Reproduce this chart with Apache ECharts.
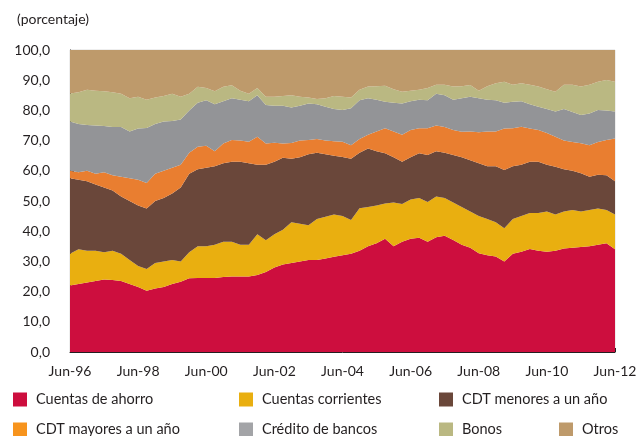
<!DOCTYPE html>
<html>
<head>
<meta charset="utf-8">
<script src="https://cdn.jsdelivr.net/npm/echarts@6/dist/echarts.min.js"></script>
<style>
  html, body { margin: 0; padding: 0; background: #fff; }
  #chart { width: 640px; height: 436px; }
</style>
</head>
<body>
<div id="chart"></div>
<script>
// trimestral, Jun-96 a Jun-12 (participación %)
let meses = ['Jun', 'Sep', 'Dic', 'Mar'];
let fechas = [];
for (let i = 0; i <= 64; i++) {
  let anio = 96 + Math.floor((i + 2) / 4);
  fechas.push(meses[i % 4] + '-' + String(anio % 100).padStart(2, '0'));
}

let ahorro = [22.0, 22.5, 23.0, 23.5, 24.0, 23.8, 23.5, 22.5, 21.5, 20.3, 21.0, 21.5, 22.5, 23.3, 24.4, 24.5,
  24.5, 24.5, 24.8, 25.0, 25.0, 25.0, 25.5, 26.5, 28.0, 29.0, 29.5, 30.0, 30.5, 30.5, 31.0, 31.5,
  32.0, 32.5, 33.5, 35.0, 36.0, 37.5, 35.0, 36.5, 37.5, 37.8, 36.5, 38.0, 38.5, 37.1, 35.5, 34.5,
  32.7, 32.0, 31.6, 30.0, 32.5, 33.2, 34.1, 33.5, 33.2, 33.5, 34.3, 34.5, 34.8, 35.0, 35.5, 36.0, 34.0];
let corrientes = [10.5, 11.5, 10.5, 10.0, 9.0, 9.7, 9.0, 8.0, 7.0, 7.2, 8.5, 8.5, 8.0, 6.7, 8.6, 10.5,
  10.5, 11.0, 11.7, 11.5, 10.5, 10.5, 13.5, 10.5, 11.0, 11.5, 13.5, 12.5, 11.5, 13.5, 13.8, 14.0,
  13.0, 11.2, 14.1, 13.0, 12.5, 11.7, 14.5, 12.5, 13.0, 13.2, 13.2, 13.5, 12.5, 12.4, 12.5, 12.0,
  12.3, 12.0, 11.4, 11.0, 11.5, 11.8, 11.9, 12.5, 13.3, 12.0, 12.2, 12.5, 11.7, 12.0, 12.0, 11.0, 11.5];
let cdtMenores = [25.0, 23.0, 23.0, 22.0, 21.5, 20.0, 19.0, 19.5, 20.0, 20.0, 20.5, 21.0, 22.0, 24.5, 26.0, 25.5,
  26.0, 26.0, 26.0, 26.5, 27.5, 27.0, 23.0, 25.0, 24.0, 23.8, 21.0, 22.0, 23.5, 22.0, 20.7, 19.5,
  19.6, 20.3, 18.4, 19.4, 18.0, 16.6, 15.0, 14.0, 14.0, 14.8, 15.5, 15.0, 15.0, 15.7, 16.5, 17.0,
  17.5, 17.5, 18.5, 19.3, 17.5, 17.0, 17.0, 17.0, 15.5, 15.8, 14.0, 13.0, 12.7, 11.0, 11.2, 11.5, 11.0];
let cdtMayores = [2.5, 2.5, 3.5, 3.5, 5.0, 5.0, 6.5, 7.5, 8.5, 8.5, 9.0, 9.0, 8.5, 7.5, 7.0, 7.5,
  7.3, 5.0, 6.5, 7.2, 7.0, 7.1, 9.3, 7.0, 6.3, 4.7, 5.2, 5.5, 4.7, 4.5, 4.5, 4.8,
  5.0, 4.5, 4.5, 4.5, 6.5, 8.3, 8.5, 8.9, 9.0, 8.3, 8.9, 8.5, 8.5, 8.3, 8.4, 9.5,
  10.3, 11.5, 11.5, 13.7, 12.6, 12.6, 11.0, 10.5, 10.5, 10.0, 9.5, 9.5, 9.9, 10.5, 10.8, 11.7, 14.2];
let credito = [16.3, 16.0, 15.2, 16.0, 15.3, 16.0, 16.5, 15.5, 17.0, 18.2, 16.5, 16.3, 15.5, 15.0, 14.0, 14.5,
  15.1, 15.5, 14.0, 13.8, 13.5, 13.4, 13.7, 12.8, 12.2, 12.5, 11.8, 11.5, 12.1, 11.5, 11.2, 10.7,
  10.5, 12.2, 12.9, 12.1, 10.5, 8.8, 9.5, 10.4, 9.5, 9.4, 9.3, 10.5, 10.5, 10.0, 11.1, 11.5,
  11.2, 10.5, 10.4, 8.5, 8.8, 8.4, 8.0, 7.7, 8.0, 8.3, 10.5, 10.0, 9.4, 10.5, 10.6, 9.8, 8.9];
let bonos = [9.3, 10.5, 11.6, 11.5, 11.5, 11.5, 11.0, 11.0, 10.5, 9.3, 8.8, 8.5, 9.0, 7.5, 5.5, 5.3,
  4.0, 4.3, 4.8, 4.3, 3.0, 2.5, 2.4, 2.7, 3.0, 3.3, 4.0, 3.0, 2.0, 1.8, 2.8, 4.3,
  4.4, 3.6, 3.4, 3.9, 4.5, 5.3, 4.5, 3.9, 3.5, 3.3, 4.0, 3.0, 3.5, 4.4, 4.0, 3.9,
  2.5, 4.5, 5.6, 7.0, 5.6, 6.0, 6.5, 6.7, 6.5, 6.6, 8.0, 9.0, 9.4, 9.5, 9.4, 10.1, 9.9];
let otros = [14.4, 14.0, 13.2, 13.5, 13.7, 14.0, 14.5, 16.0, 15.5, 16.5, 15.7, 15.2, 14.5, 15.5, 14.5, 12.2,
  12.6, 13.7, 12.2, 11.7, 13.5, 14.5, 12.6, 15.5, 15.5, 15.2, 15.0, 15.5, 15.7, 16.2, 16.0, 15.2,
  15.5, 15.7, 13.2, 12.1, 12.0, 11.8, 13.0, 13.8, 13.5, 13.2, 12.6, 11.5, 11.5, 12.1, 12.0, 11.6,
  13.5, 12.0, 11.0, 10.5, 11.5, 11.0, 11.5, 12.1, 13.0, 13.8, 11.5, 11.5, 12.1, 11.5, 10.5, 9.9, 10.5];

let nombres = ['Cuentas de ahorro', 'Cuentas corrientes', 'CDT menores a un año',
  'CDT mayores a un año', 'Crédito de bancos', 'Bonos', 'Otros'];
let valores = [ahorro, corrientes, cdtMenores, cdtMayores, credito, bonos, otros];
let colores = ['#CD0E3E', '#E9AF10', '#6A473A', '#E97E30', '#939497', '#BAB882', '#BE9A6B'];
let coloresLeyenda = ['#CD0E3E', '#E9AF10', '#6A473A', '#F7941D', '#A3A4A7', '#BAB882', '#BE9A6B'];

// posiciones de la leyenda (dos filas, tres columnas + Otros)
let leyPos = [[13, 392], [239, 392], [439, 392], [13, 422], [239, 422], [439, 422], [559, 422]];

const fuente = 'Lato';
const txt = '#231F20';

let chart = echarts.init(document.getElementById('chart'));

const option = {
  animation: false,
  textStyle: { fontFamily: fuente },
  title: {
    text: '(porcentaje)',
    left: 12,
    top: 7,
    textStyle: { fontSize: 14, fontWeight: 'normal', color: txt, fontFamily: fuente }
  },
  legend: nombres.map(function (n, i) {
    return {
      data: [{ name: n, itemStyle: { color: coloresLeyenda[i] } }],
      left: leyPos[i][0],
      top: leyPos[i][1],
      icon: 'rect',
      itemWidth: 14,
      itemHeight: 14,
      itemGap: 0,
      padding: 0,
      selectedMode: false,
      textStyle: { fontSize: 14.5, color: txt, fontFamily: fuente, padding: [0, 0, 0, 4] }
    };
  }),
  grid: {
    left: 70,
    right: 25,
    top: 50,
    bottom: 84,
    show: true,
    borderColor: '#dddddd',
    borderWidth: 1
  },
  xAxis: {
    type: 'category',
    data: fechas,
    boundaryGap: false,
    axisLine: { lineStyle: { color: '#231F20', width: 1 } },
    axisTick: { inside: true, length: 4, interval: 7, lineStyle: { color: '#231F20' } },
    axisLabel: { interval: 7, margin: 12, fontSize: 14, color: txt, fontFamily: fuente },
    splitLine: { show: false }
  },
  yAxis: {
    type: 'value',
    min: 0,
    max: 100,
    interval: 10,
    axisLine: { show: true, lineStyle: { color: '#231F20', width: 1 } },
    axisTick: { show: true, inside: true, length: 4, lineStyle: { color: '#231F20' } },
    axisLabel: {
      margin: 20,
      fontSize: 14,
      color: txt,
      fontFamily: fuente,
      formatter: function (v) { return v.toFixed(1).replace('.', ','); }
    },
    splitLine: { show: false }
  },
  series: nombres.map(function (n, i) {
    return {
      name: n,
      type: 'line',
      stack: 'total',
      data: valores[i],
      symbol: 'none',
      lineStyle: { width: 0 },
      itemStyle: { color: colores[i] },
      areaStyle: { color: colores[i], opacity: 1 }
    };
  })
};

chart.setOption(option);
</script>
</body>
</html>
